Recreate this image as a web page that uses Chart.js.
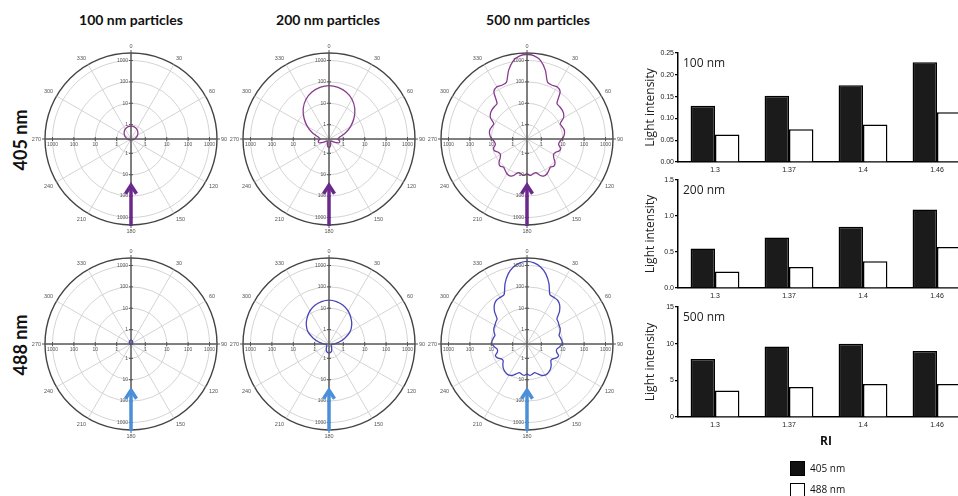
<!DOCTYPE html>
<html>
<head>
<meta charset="utf-8">
<script src="https://cdn.jsdelivr.net/npm/chart.js@4.4.1/dist/chart.umd.min.js"></script>
<style>
body { margin:0; width:958px; height:496px; overflow:hidden; position:relative; background:#fff; font-family:Lato, sans-serif; color:#111; }
canvas, .t { position:absolute; }
.col { font-weight:bold; font-size:14px; top:11px; transform:translateX(-50%); white-space:nowrap; }
.row { font-weight:bold; font-size:18px; transform:translate(-50%,-50%) rotate(-90deg); white-space:nowrap; }
.leg { font-family:"Open Sans"; font-size:10px; line-height:14px; }
.sw { position:absolute; width:15px; height:15px; border:1px solid #000; box-sizing:border-box; }
</style>
</head>
<body>
<div class="t col" style="left:131px">100 nm particles</div>
<div class="t col" style="left:328px">200 nm particles</div>
<div class="t col" style="left:538px">500 nm particles</div>
<div class="t row" style="left:20px;top:140px">405 nm</div>
<div class="t row" style="left:20px;top:345px">488 nm</div>

<canvas id="p1" width="200" height="200" style="left:31px;top:39px"></canvas>
<canvas id="p2" width="200" height="200" style="left:229px;top:39px"></canvas>
<canvas id="p3" width="200" height="200" style="left:427px;top:39px"></canvas>
<canvas id="p4" width="200" height="200" style="left:31px;top:244px"></canvas>
<canvas id="p5" width="200" height="200" style="left:229px;top:244px"></canvas>
<canvas id="p6" width="200" height="200" style="left:427px;top:244px"></canvas>

<canvas id="b1" width="334" height="129" style="left:640px;top:47px"></canvas>
<canvas id="b2" width="334" height="128" style="left:640px;top:174px"></canvas>
<canvas id="b3" width="334" height="148" style="left:640px;top:301px"></canvas>

<div class="sw" style="left:790px;top:461px;background:#111"></div>
<div class="t leg" style="left:810px;top:461px">405 nm</div>
<div class="sw" style="left:790px;top:483px;background:#fff"></div>
<div class="t leg" style="left:810px;top:482px">488 nm</div>

<script>
Chart.defaults.font.family = '"Liberation Sans", Arial, sans-serif';

// bar charts: integrated light intensity vs refractive index
const RI = ['1.3', '1.37', '1.4', '1.46'];
const I405_100 = [0.129, 0.152, 0.176, 0.229];
const I488_100 = [0.063, 0.075, 0.086, 0.114];
const I405_200 = [0.55, 0.70, 0.85, 1.09];
const I488_200 = [0.23, 0.29, 0.37, 0.57];
const I405_500 = [7.9, 9.6, 10.0, 9.0];
const I488_500 = [3.6, 4.1, 4.5, 4.5];

// polar plots: scattered intensity vs angle (log radial axis)
const ANG10 = Array.from({length: 36}, (_, i) => i * 10);
const ANG5 = Array.from({length: 72}, (_, i) => i * 5);
const ANGLE_TICKS = [0, 30, 60, 90, 120, 150, 180, 210, 240, 270, 300, 330];
const RADIAL_TICKS = [1, 10, 100, 1000];
const R_MIN = -0.67, R_MAX = 3.35;

const S100_405 = [0.85,0.84,0.79,0.73,0.65,0.56,0.48,0.41,0.35,0.31,0.28,0.27,0.25,0.25,0.24,0.24,0.24,0.24,0.24,
                  0.24,0.24,0.24,0.24,0.25,0.25,0.27,0.28,0.31,0.35,0.41,0.48,0.56,0.65,0.73,0.79,0.84];
const S100_488 = [0.33,0.32,0.31,0.30,0.28,0.27,0.26,0.25,0.24,0.24,0.24,0.24,0.23,0.23,0.23,0.23,0.23,0.23,0.23,
                  0.23,0.23,0.23,0.23,0.23,0.23,0.24,0.24,0.24,0.24,0.25,0.26,0.27,0.28,0.30,0.31,0.32];
const S200_405 = [67,60,46,30,16,7.2,3.1,1.4,0.69,0.56,0.69,0.69,0.45,0.31,0.28,0.29,0.36,0.48,0.52,
                  0.48,0.36,0.29,0.28,0.31,0.45,0.69,0.69,0.56,0.69,1.4,3.1,7.2,16,30,46,60];
const S200_488 = [24,22,18,13,8.4,5.2,2.9,1.3,0.62,0.36,0.29,0.28,0.28,0.29,0.33,0.38,0.48,0.54,0.56,
                  0.54,0.48,0.38,0.33,0.29,0.28,0.28,0.29,0.36,0.62,1.3,2.9,5.2,8.4,13,18,22];
const S500_405 = [1900,1700,1100,450,140,127,140,108,32,30,29,26,20,11,11.6,13,13,11.6,9.3,7.2,6.8,8.9,8.9,6.4,5.8,7.2,11,13,11,13,16,17,14,9,9.5,11,9,
                  11,9.5,9,14,17,16,13,11,13,11,7.2,5.8,6.4,8.9,8.9,6.8,7.2,9.3,11.6,13,13,11.6,11,20,26,29,30,32,108,140,127,140,450,1100,1700];
const S500_488 = [1550,1360,960,530,216,74,70,67,51,30,14.3,12.9,11.6,11,9.3,7.6,8.4,9.3,9.3,7.2,5.5,5.8,8.0,7.2,5.2,4.9,6.4,8.0,9.3,10.2,10.2,8.9,6.6,5.2,5.8,6.4,5.4,
                  6.4,5.8,5.2,6.6,8.9,10.2,10.2,9.3,8.0,6.4,4.9,5.2,7.2,8.0,5.8,5.5,7.2,9.3,9.3,8.4,7.6,9.3,11,11.6,12.9,14.3,30,51,67,70,74,216,530,960,1360];

const C405 = '#8a3a8e', C488 = '#4646b8';
const A405 = '#6a2a8c', A488 = '#4a8fd8';

const polarDeco = {
  id: 'polarDeco',
  afterDraw(chart, args, opts) {
    const s = chart.scales.r, ctx = chart.ctx;
    const cx = s.xCenter, cy = s.yCenter, R = s.drawingArea;
    ctx.save();
    ctx.strokeStyle = '#555';
    ctx.lineWidth = 1;
    ctx.beginPath();
    ctx.moveTo(cx - R - 3, cy); ctx.lineTo(cx + R + 3, cy);
    ctx.moveTo(cx, cy - R - 3); ctx.lineTo(cx, cy + R + 3);
    RADIAL_TICKS.forEach(v => {
      const d = s.getDistanceFromCenterForValue(Math.log10(v));
      ctx.moveTo(cx - 2, cy - d); ctx.lineTo(cx + 2, cy - d);
      ctx.moveTo(cx - 2, cy + d); ctx.lineTo(cx + 2, cy + d);
      ctx.moveTo(cx - d, cy - 2); ctx.lineTo(cx - d, cy + 2);
      ctx.moveTo(cx + d, cy - 2); ctx.lineTo(cx + d, cy + 2);
    });
    ctx.stroke();

    ctx.fillStyle = '#555';
    ctx.font = '5px "Liberation Sans"';
    RADIAL_TICKS.forEach(v => {
      const d = s.getDistanceFromCenterForValue(Math.log10(v));
      ctx.textAlign = 'right'; ctx.textBaseline = 'middle';
      ctx.fillText(String(v), cx - 3, cy - d);
      ctx.fillText(String(v), cx - 3, cy + d);
      ctx.textAlign = 'center'; ctx.textBaseline = 'top';
      ctx.fillText(String(v), cx - d, cy + 3);
      ctx.fillText(String(v), cx + d, cy + 3);
    });

    ctx.font = '5.5px "Liberation Sans"';
    chart.data.labels.forEach((a, i) => {
      if (!ANGLE_TICKS.includes(a)) return;
      const p = s.getPointPosition(i, R + 4);
      const c = Math.cos(p.angle), sn = Math.sin(p.angle);
      ctx.textAlign = c > 0.2 ? 'left' : (c < -0.2 ? 'right' : 'center');
      ctx.textBaseline = sn < -0.2 ? 'bottom' : (sn > 0.2 ? 'top' : 'middle');
      ctx.fillText(String(a), p.x, p.y);
    });

    // incident beam arrow
    const tip = cy + R * 0.52, base = cy + R + 1;
    ctx.strokeStyle = opts.arrow;
    ctx.lineWidth = 3.5;
    ctx.beginPath(); ctx.moveTo(cx, base); ctx.lineTo(cx, tip + 2); ctx.stroke();
    ctx.beginPath(); ctx.moveTo(cx - 5.5, tip + 10); ctx.lineTo(cx, tip + 1.5); ctx.lineTo(cx + 5.5, tip + 10); ctx.stroke();
    ctx.restore();
  }
};

function polar(id, angles, values, color, arrow) {
  new Chart(document.getElementById(id), {
    type: 'radar',
    data: {
      labels: angles,
      datasets: [{ data: values.map(v => Math.log10(v)), borderColor: color, borderWidth: 1.3,
                   pointRadius: 0, fill: false, tension: 0.25 }]
    },
    options: {
      responsive: false, animation: false,
      layout: { padding: 14 },
      plugins: { legend: { display: false }, tooltip: { enabled: false }, polarDeco: { arrow: arrow } },
      scales: {
        r: {
          min: R_MIN, max: R_MAX, startAngle: 0,
          afterBuildTicks: s => { s.ticks = [R_MIN].concat(RADIAL_TICKS.map(Math.log10), [R_MAX]).map(v => ({ value: v })); },
          ticks: { display: false },
          pointLabels: { display: false },
          grid: {
            circular: true,
            color: c => c.index === 0 ? 'rgba(0,0,0,0)' : (c.tick.value === R_MAX ? '#444' : '#d4d4d4'),
            lineWidth: c => c.tick && c.tick.value === R_MAX ? 1.4 : 1
          },
          angleLines: {
            color: c => (c.chart.data.labels[c.index] % 90 ? '#d4d4d4' : '#555'),
            lineWidth: c => (ANGLE_TICKS.includes(c.chart.data.labels[c.index]) ? 1 : 0)
          }
        }
      }
    },
    plugins: [polarDeco]
  });
}

polar('p1', ANG10, S100_405, C405, A405);
polar('p2', ANG10, S200_405, C405, A405);
polar('p3', ANG5, S500_405, C405, A405);
polar('p4', ANG10, S100_488, C488, A488);
polar('p5', ANG10, S200_488, C488, A488);
polar('p6', ANG5, S500_488, C488, A488);

const panelLabel = {
  id: 'panelLabel',
  afterDraw(chart, args, opts) {
    const a = chart.chartArea, ctx = chart.ctx;
    ctx.save();
    ctx.font = '12px "Open Sans"';
    ctx.fillStyle = '#222';
    ctx.textBaseline = 'middle';
    ctx.fillText(opts.text, a.left + 5, a.top + 11);
    ctx.restore();
  }
};

function bars(id, a, b, max, step, dec, label, showTitle) {
  new Chart(document.getElementById(id), {
    type: 'bar',
    data: {
      labels: RI,
      datasets: [
        { label: '405 nm', data: a, backgroundColor: '#1b1b1b', borderColor: '#000', borderWidth: 1.5 },
        { label: '488 nm', data: b, backgroundColor: '#fff', borderColor: '#000', borderWidth: 1.5 }
      ]
    },
    options: {
      responsive: false, animation: false,
      layout: { padding: { top: 6, right: 0, left: 0, bottom: 0 } },
      datasets: { bar: { categoryPercentage: 0.66, barPercentage: 1 } },
      plugins: { legend: { display: false }, tooltip: { enabled: false }, panelLabel: { text: label } },
      scales: {
        x: {
          grid: { display: false, drawTicks: false },
          border: { color: '#000', width: 1.5 },
          ticks: { color: '#222', font: { size: 7 }, padding: 4 },
          title: { display: showTitle, text: 'RI', color: '#111', font: { family: 'Open Sans', size: 12, weight: 'bold' }, padding: 0 },
          afterFit: s => { s.height = showTitle ? 32 : 14; }
        },
        y: {
          min: 0, max: max,
          ticks: { stepSize: step, callback: v => v.toFixed(dec), font: { size: 7 }, color: '#222', padding: 1 },
          grid: { drawOnChartArea: false, tickLength: 3, color: '#000', lineWidth: 1.2 },
          border: { color: '#000', width: 1.5 },
          title: { display: true, text: 'Light intensity', color: '#222', font: { family: 'Open Sans', size: 12 }, padding: { top: 3, bottom: 0 } },
          afterFit: s => { s.width = 38; }
        }
      }
    },
    plugins: [panelLabel]
  });
}

bars('b1', I405_100, I488_100, 0.25, 0.05, 2, '100 nm', false);
bars('b2', I405_200, I488_200, 1.5, 0.5, 1, '200 nm', false);
bars('b3', I405_500, I488_500, 15, 5, 0, '500 nm', true);
</script>
</body>
</html>
